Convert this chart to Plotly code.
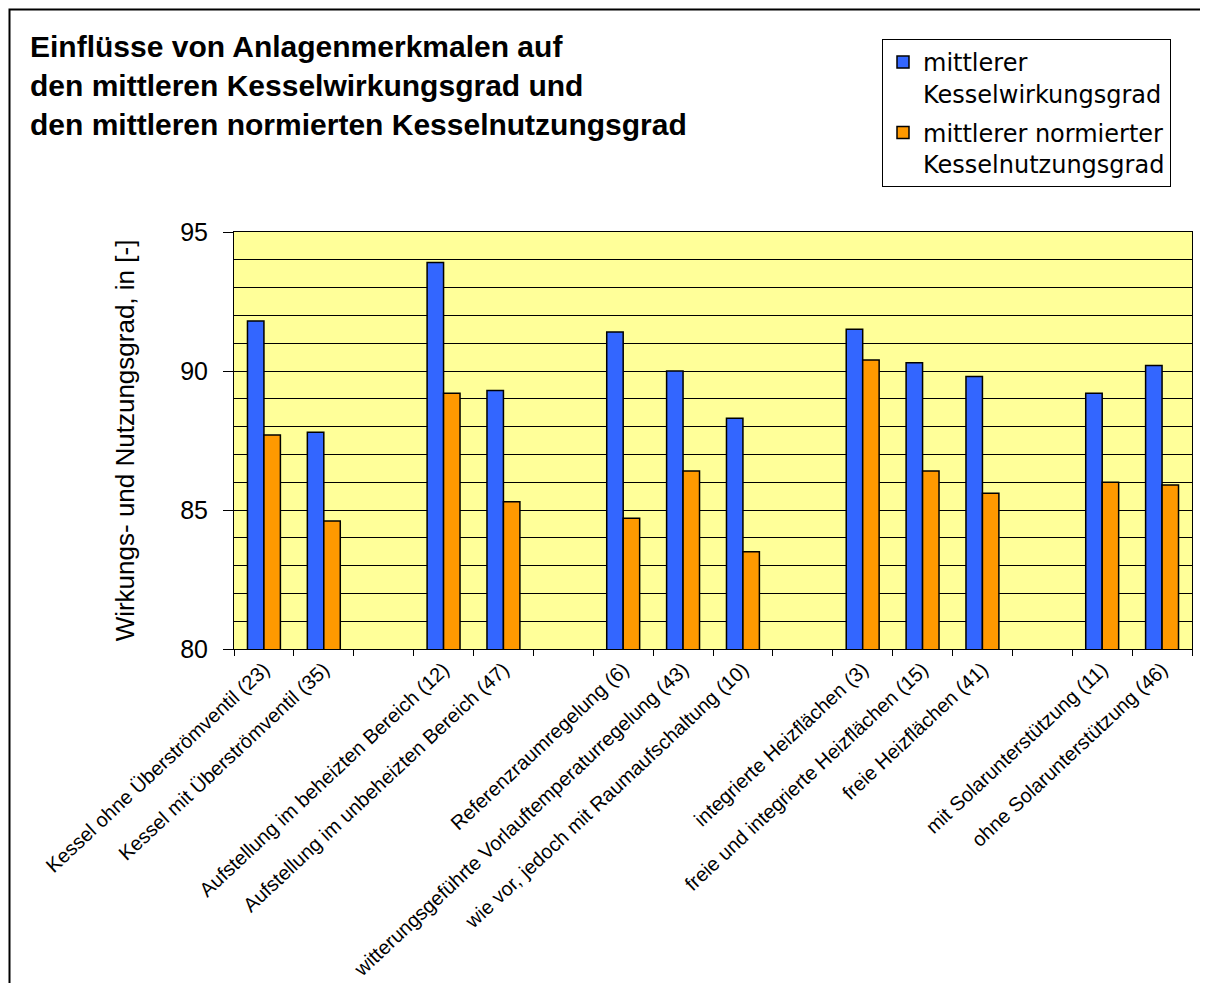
import plotly.graph_objects as go

# ---- data ----
categories = [
    "Kessel ohne Überströmventil (23)",
    "Kessel mit Überströmventil (35)",
    "\u200b",
    "Aufstellung im beheizten Bereich (12)",
    "Aufstellung im unbeheizten Bereich (47)",
    "\u200b\u200b",
    "Referenzraumregelung (6)",
    "witterungsgeführte Vorlauftemperaturregelung (43)",
    "wie vor, jedoch mit Raumaufschaltung (10)",
    "\u200b\u200b\u200b",
    "integrierte Heizflächen (3)",
    "freie und integrierte Heizflächen (15)",
    "freie Heizflächen (41)",
    "\u200b\u200b\u200b\u200b",
    "mit Solarunterstützung (11)",
    "ohne Solarunterstützung (46)",
]
kesselwirkungsgrad = [91.8, 87.8, None, 93.9, 89.3, None, 91.4, 90.0, 88.3, None,
                      91.5, 90.3, 89.8, None, 89.2, 90.2]
kesselnutzungsgrad = [87.7, 84.6, None, 89.2, 85.3, None, 84.7, 86.4, 83.5, None,
                      90.4, 86.4, 85.6, None, 86.0, 85.9]
series_names = ["mittlerer<br>Kesselwirkungsgrad",
                "mittlerer normierter<br>Kesselnutzungsgrad"]
y_ticks = [80, 85, 90, 95]

title_text = ("<b>Einflüsse von Anlagenmerkmalen auf<br>"
              "den mittleren Kesselwirkungsgrad und<br>"
              "den mittleren normierten Kesselnutzungsgrad</b>")
y_title = "Wirkungs- und Nutzungsgrad, in [-]"

# ---- layout geometry (figure pixels; page adds 8px body margin) ----
W, H = 1200, 975
L, R, T, B = 226, 16, 224, 334
pw, ph = W - L - R, H - T - B

def px_x(p):
    return (p - L) / pw

def px_y(p):
    return (H - B - p) / ph

FONT = "Liberation Sans, Arial, sans-serif"
LEGEND_FONT = "DejaVu Sans, Liberation Sans, sans-serif"

fig = go.Figure()
fig.add_trace(go.Bar(
    x=categories, y=kesselwirkungsgrad, name=series_names[0],
    marker=dict(color="#3366FF", line=dict(color="black", width=1.5)),
    legendgroup="a",
))
fig.add_trace(go.Bar(
    x=categories, y=kesselnutzungsgrad, name=series_names[1],
    marker=dict(color="#FF9900", line=dict(color="black", width=1.5)),
    legendgroup="b",
))

fig.update_layout(
    width=W, height=H, autosize=False,
    margin=dict(l=L, r=R, t=T, b=B, pad=0),
    paper_bgcolor="white",
    plot_bgcolor="#FFFF99",
    barmode="group",
    bargap=0.45,
    bargroupgap=0,
    font=dict(family=FONT, color="black"),
    title=dict(
        text=title_text,
        font=dict(family=FONT, size=30, color="black"),
        x=22 / W, xref="container", xanchor="left",
        y=1 - 49 / H, yref="container", yanchor="top",
    ),
    legend=dict(
        x=px_x(874), y=px_y(31), xanchor="left", yanchor="top",
        bgcolor="white", bordercolor="black", borderwidth=1,
        font=dict(family=LEGEND_FONT, size=24, color="black"),
        tracegroupgap=5,
        traceorder="grouped",
        valign="top",
    ),
    showlegend=True,
)

fig.update_xaxes(
    type="category",
    categoryorder="array", categoryarray=categories,
    showline=True, linecolor="black", linewidth=1, mirror=True,
    ticks="outside", tickson="boundaries", ticklen=6, tickcolor="black",
    tickangle=-43,
    tickfont=dict(family=FONT, size=20, color="black"),
    showgrid=False, automargin=False,
)
fig.update_yaxes(
    range=[80, 95],
    tickvals=y_ticks,
    showline=True, linecolor="black", linewidth=1, mirror=True,
    ticks="outside", ticklen=10, tickcolor="black",
    ticklabelstandoff=10,
    tickfont=dict(family=FONT, size=25, color="black"),
    showgrid=True, gridcolor="black", gridwidth=1,
    minor=dict(dtick=1, showgrid=True, gridcolor="black", gridwidth=1, ticks=""),
    zeroline=False,
    title=dict(text=y_title, font=dict(family=FONT, size=26, color="black"),
               standoff=38),
    automargin=False,
)

# outer chart frame (extends beyond right/bottom edge as in the reference)
fig.add_shape(
    type="rect", xref="paper", yref="paper",
    x0=px_x(1.5), x1=px_x(1230), y0=px_y(1000), y1=px_y(1.5),
    line=dict(color="black", width=2), fillcolor="rgba(0,0,0,0)",
    layer="above",
)

fig.write_html("out.html")
